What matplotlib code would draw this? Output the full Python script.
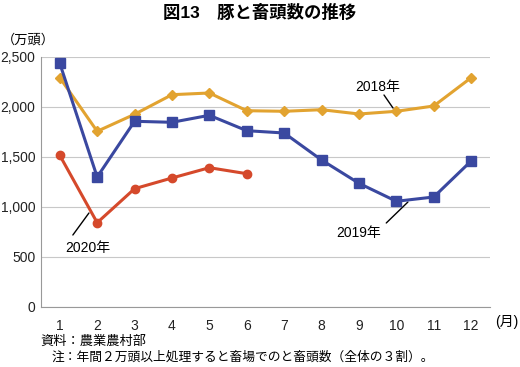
import matplotlib
matplotlib.use("Agg")
import matplotlib.pyplot as plt

plt.rcParams['font.family'] = ['Liberation Sans', 'Noto Sans CJK JP']

months = list(range(1, 13))
month_labels = [str(m) for m in months]
y2018 = [2293, 1757, 1927, 2123, 2140, 1963, 1957, 1973, 1930, 1957, 2010, 2293]
y2019 = [2437, 1300, 1857, 1847, 1917, 1763, 1740, 1470, 1237, 1057, 1100, 1460]
y2020 = [1517, 843, 1183, 1290, 1393, 1333]
yticks = [0, 500, 1000, 1500, 2000, 2500]
ytick_labels = ['0', '500', '1,000', '1,500', '2,000', '2,500']

c18 = '#E2A330'
c19 = '#3A48A0'
c20 = '#D5492B'

fig = plt.figure(figsize=(5.2, 3.67), dpi=100)
ax = fig.add_axes([0.079, 0.1635, 0.863, 0.6812])

ax.plot(months, y2018, color=c18, lw=2.2, marker='D', ms=5, zorder=3)
ax.plot(months, y2019, color=c19, lw=2.2, marker='s', ms=6.5, zorder=4)
ax.plot(months[:len(y2020)], y2020, color=c20, lw=2.2, marker='o', ms=6, zorder=3)

ax.set_xlim(0.5, 12.5)
ax.set_ylim(0, 2500)
ax.set_yticks(yticks)
ax.set_yticklabels(ytick_labels)
ax.set_xticks(months)
ax.set_xticklabels(month_labels)
ax.tick_params(length=0, labelsize=10, colors='#222222')
ax.tick_params(axis='x', pad=9)
ax.tick_params(axis='y', pad=4)
ax.grid(axis='y', color='#c8c8c8', lw=0.8)
ax.set_axisbelow(True)
for s in ['top', 'right']:
    ax.spines[s].set_visible(False)
ax.spines['left'].set_color('#999999')
ax.spines['bottom'].set_color('#999999')
ax.spines['left'].set_linewidth(0.8)
ax.spines['bottom'].set_linewidth(0.8)

# leader lines and series labels
line_kw = dict(arrowstyle='-', color='black', lw=1, shrinkA=0, shrinkB=0)
ax.annotate('', xy=(9.91, 1990), xytext=(9.67, 2120), arrowprops=line_kw)
ax.text(9.51, 2200, '2018年', fontsize=10, ha='center', va='center')
ax.annotate('', xy=(10.31, 1050), xytext=(9.73, 840), arrowprops=line_kw)
ax.text(8.98, 740, '2019年', fontsize=10, ha='center', va='center')
ax.annotate('', xy=(1.78, 940), xytext=(1.35, 720), arrowprops=line_kw)
ax.text(1.75, 590, '2020年', fontsize=10, ha='center', va='center')

fig.text(0.5, 0.965, '図13　豚と畜頭数の推移', ha='center', va='center',
         fontsize=12.5, fontweight='bold')
fig.text(0.004, 0.89, '（万頭）', ha='left', va='center', fontsize=9.5)
fig.text(0.952, 0.122, '(月)', ha='left', va='center', fontsize=10)
fig.text(0.078, 0.07, '資料：農業農村部', ha='left', va='center', fontsize=9.5)
fig.text(0.1, 0.027, '注：年間２万頭以上処理すると畜場でのと畜頭数（全体の３割）。',
         ha='left', va='center', fontsize=9.2)

fig.savefig('out.png', dpi=100)
